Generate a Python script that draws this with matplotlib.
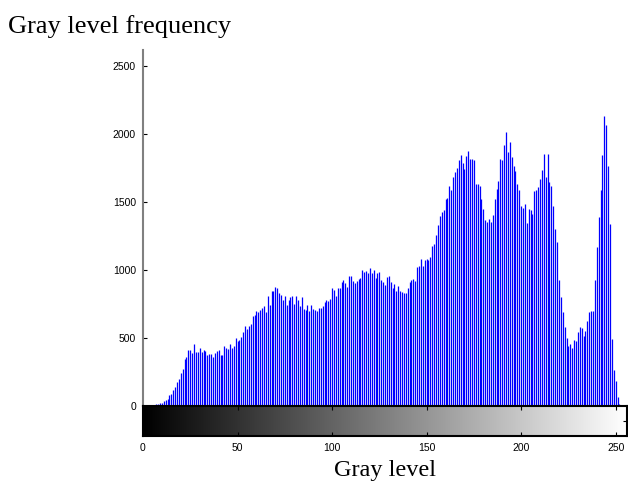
import numpy as np
import matplotlib
matplotlib.use("Agg")
import matplotlib.pyplot as plt

# histogram counts per gray level 0..255
counts = [
    5, 3, 4, 4, 3, 6, 8, 12, 17, 20, 25, 35, 44, 50, 81, 86,
    120, 140, 177, 196, 240, 273, 349, 357, 411, 411, 391, 455, 401, 401, 425, 399,
    413, 406, 374, 381, 381, 364, 389, 406, 413, 374, 379, 443, 430, 418, 453, 430,
    445, 504, 480, 485, 509, 547, 588, 570, 590, 603, 665, 670, 700, 690, 709, 720,
    738, 694, 812, 743, 849, 849, 878, 870, 829, 819, 782, 812, 743, 782, 800, 807,
    751, 807, 782, 733, 800, 714, 707, 743, 702, 743, 714, 707, 697, 721, 721, 733,
    763, 780, 770, 790, 868, 854, 812, 866, 866, 910, 927, 903, 878, 960, 960, 923,
    903, 923, 935, 942, 1002, 985, 997, 980, 1017, 977, 1002, 942, 977, 985, 927, 915,
    894, 947, 959, 915, 869, 898, 849, 886, 849, 842, 830, 830, 869, 911, 928, 935,
    918, 1021, 1034, 1083, 1034, 1071, 1083, 1076, 1093, 1177, 1194, 1256, 1335, 1396, 1428, 1440,
    1526, 1534, 1617, 1587, 1686, 1723, 1755, 1809, 1846, 1792, 1747, 1839, 1878, 1821, 1821, 1814,
    1632, 1637, 1619, 1521, 1447, 1366, 1354, 1379, 1354, 1403, 1521, 1594, 1656, 1821, 1814, 1919,
    2014, 1871, 1940, 1829, 1765, 1728, 1637, 1587, 1469, 1460, 1484, 1346, 1452, 1440, 1415, 1580,
    1592, 1612, 1673, 1735, 1858, 1686, 1858, 1651, 1621, 1474, 1305, 1206, 928, 800, 689, 578,
    504, 443, 455, 426, 485, 475, 541, 578, 573, 517, 554, 623, 694, 702, 702, 928,
    1169, 1391, 1587, 1846, 2134, 2068, 1765, 1342, 492, 263, 185, 66, 17, 5, 5, 5,
]
levels = np.arange(len(counts))
xticks = [0, 50, 100, 150, 200, 250]
yticks = [0, 500, 1000, 1500, 2000, 2500]

W, H = 628, 486
fig = plt.figure(figsize=(W / 100, H / 100), dpi=100)

def box(l, t, r, b):
    return [l / W, 1 - b / H, (r - l) / W, (b - t) / H]

ax = fig.add_axes(box(143, 50, 627, 406))
ax.vlines(levels, 0, counts, color="#0000ff", linewidth=0.9)
ax.set_xlim(0, 256)
ax.set_ylim(0, 2620)
ax.set_yticks(yticks)
ax.set_yticklabels([str(v) for v in yticks], fontsize=7.5, family="Liberation Sans")
ax.set_xticks([])
for s in ["top", "right", "bottom"]:
    ax.spines[s].set_visible(False)
ax.spines["left"].set_color("#808080")
ax.spines["left"].set_linewidth(1.5)
ax.tick_params(axis="y", direction="in", length=3, width=0.8, pad=5, colors="black")

# gray level colorbar underneath
cax = fig.add_axes(box(143, 406, 627, 436))
cax.imshow(levels[None, :], cmap="gray", aspect="auto", extent=(0, 256, 0, 1),
           vmin=0, vmax=255, interpolation="bilinear")
cax.set_xlim(0, 256)
cax.set_ylim(0, 1)
cax.set_xticks(xticks)
cax.set_xticklabels([str(v) for v in xticks], fontsize=7.5, family="Liberation Sans")
cax.set_yticks([0.5])
cax.set_yticklabels([])
cax.tick_params(axis="x", direction="in", length=3, width=0.8, top=True, bottom=True, pad=5)
cax.tick_params(axis="y", direction="in", length=3, width=0.8, left=False, right=True)
for s in cax.spines.values():
    s.set_linewidth(1.5)

fig.text(385 / W, 1 - 470 / H, "Gray level", fontsize=17.5, family="Liberation Serif",
         ha="center", va="center")
fig.text(8 / W, 1 - 27 / H, "Gray level frequency", fontsize=19, family="Liberation Serif",
         ha="left", va="center")

fig.savefig("out.png", dpi=100)
